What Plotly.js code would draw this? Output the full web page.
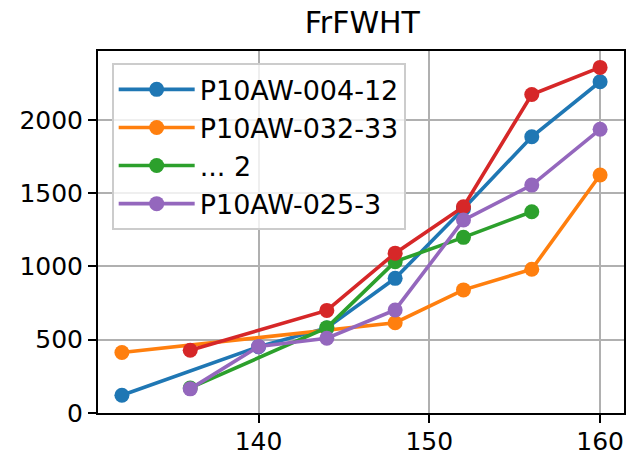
<!DOCTYPE html>
<html>
<head>
<meta charset="utf-8">
<script src="https://cdn.plot.ly/plotly-3.0.1.min.js"></script>
<style>html,body{margin:0;padding:0;background:#fff;}#chart{width:628px;height:457px;}</style>
</head>
<body>
<div id="chart"></div>
<script>
// Data
const title = "FrFWHT";
const names = ["P10AW-004-12", "P10AW-032-33", "... 2", "", "P10AW-025-3"];
const colors = ["#1f77b4", "#ff7f0e", "#2ca02c", "#d62728", "#9467bd"];
const showInLegend = [true, true, true, false, true];

const blueX = [132, 140, 144, 148, 152, 156, 160];
const blueY = [120, 452, 580, 919, 1395, 1886, 2262];
const orangeX = [132, 148, 152, 156, 160];
const orangeY = [412, 616, 840, 981, 1625];
const greenX = [136, 144, 148, 152, 156];
const greenY = [170, 582, 1033, 1199, 1374];
const redX = [136, 144, 148, 152, 156, 160];
const redY = [428, 700, 1091, 1408, 2175, 2360];
const purpleX = [136, 140, 144, 148, 152, 156, 160];
const purpleY = [164, 453, 510, 703, 1317, 1556, 1937];

const xTicks = [140, 150, 160];
const yTicks = [0, 500, 1000, 1500, 2000];

const xs = [blueX, orangeX, greenX, redX, purpleX];
const ys = [blueY, orangeY, greenY, redY, purpleY];

const FONT = "DejaVu Sans, sans-serif";
const traces = xs.map((x, i) => ({
  x: x, y: ys[i], type: "scatter", mode: "lines+markers",
  name: names[i], showlegend: showInLegend[i],
  line: {color: colors[i], width: 3.6},
  marker: {color: colors[i], size: 15}
}));

const layout = {
  width: 628, height: 457,
  margin: {l: 98, r: 4, t: 51, b: 44},
  paper_bgcolor: "#fff", plot_bgcolor: "#fff",
  font: {family: FONT, color: "#000", size: 25},
  title: {text: title, font: {family: FONT, size: 30, color: "#000"}, x: 0.577, xanchor: "center", y: 0.95, yanchor: "middle"},
  xaxis: {
    range: [130.6, 161.4], tickvals: xTicks, ticktext: xTicks.map(String),
    showgrid: true, gridcolor: "#b0b0b0", gridwidth: 2,
    showline: true, linecolor: "#000", linewidth: 2, mirror: true,
    ticks: "outside", ticklen: 8, tickwidth: 2, tickcolor: "#000",
    ticklabelstandoff: -3,
    zeroline: false, tickfont: {family: FONT, size: 25, color: "#000"}
  },
  yaxis: {
    range: [-1, 2472], tickvals: yTicks, ticktext: yTicks.map(String),
    showgrid: true, gridcolor: "#b0b0b0", gridwidth: 2,
    showline: true, linecolor: "#000", linewidth: 2, mirror: true,
    ticks: "outside", ticklen: 8, tickwidth: 2, tickcolor: "#000",
    zeroline: false, tickfont: {family: FONT, size: 25, color: "#000"}
  },
  legend: {
    x: 0.026, y: 0.966, xanchor: "left", yanchor: "top",
    bgcolor: "rgba(255,255,255,0.8)", bordercolor: "#cccccc", borderwidth: 2,
    font: {family: FONT, size: 27, color: "#000"},
    itemwidth: 76, tracegroupgap: 0
  },
  showlegend: true
};

Plotly.newPlot("chart", traces, layout, {displayModeBar: false, staticPlot: true});
</script>
</body>
</html>
